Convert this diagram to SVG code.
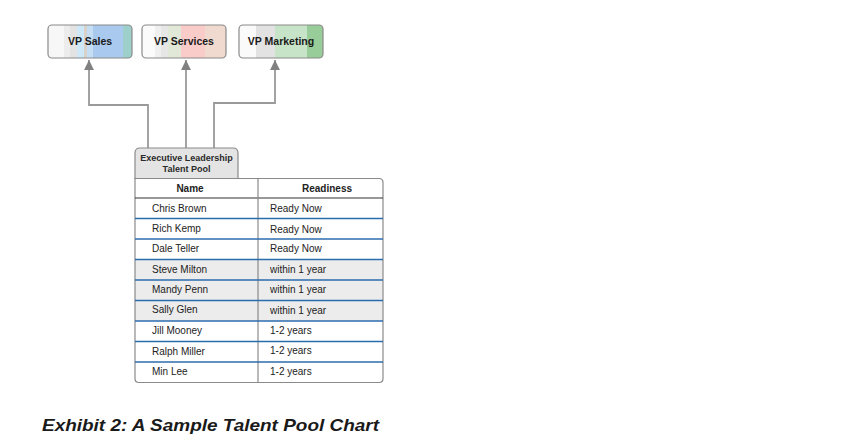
<svg xmlns="http://www.w3.org/2000/svg" width="863" height="447" viewBox="0 0 863 447">
<style>
.box{stroke:#8a8a8a;stroke-width:1.2}
.lbl{font-family:"Liberation Sans",Arial,sans-serif;font-weight:bold;font-size:10.5px;fill:#1a1a1a;text-anchor:middle}
.con{fill:none;stroke:#9a9a9a;stroke-width:1.8}
.cell{font-family:"Liberation Sans",Arial,sans-serif;font-size:10px;fill:#222}
.hdr{font-family:"Liberation Sans",Arial,sans-serif;font-size:10px;font-weight:bold;fill:#222;text-anchor:middle}
.tab{font-family:"Liberation Sans",Arial,sans-serif;font-size:9px;font-weight:bold;fill:#2a2a2a;text-anchor:middle}
.sep{stroke:#2b6cae;stroke-width:1.4}
</style>
<defs>
<linearGradient id="gS" x1="0" x2="1" y1="0" y2="0">
<stop offset="0" stop-color="#f7f7f7"/><stop offset="0.185" stop-color="#f7f7f7"/>
<stop offset="0.185" stop-color="#ececec"/><stop offset="0.26" stop-color="#ececec"/>
<stop offset="0.26" stop-color="#e3e3e3"/><stop offset="0.34" stop-color="#e3e3e3"/>
<stop offset="0.34" stop-color="#cfe8f8"/><stop offset="0.43" stop-color="#cfe8f8"/>
<stop offset="0.43" stop-color="#d9d2ca"/><stop offset="0.47" stop-color="#d9d2ca"/>
<stop offset="0.47" stop-color="#c6def4"/><stop offset="0.53" stop-color="#c6def4"/>
<stop offset="0.53" stop-color="#a9c9ee"/><stop offset="0.89" stop-color="#a9c9ee"/>
<stop offset="0.89" stop-color="#9dd0ca"/><stop offset="1" stop-color="#9dd0ca"/>
</linearGradient>
<linearGradient id="gV" x1="0" x2="1" y1="0" y2="0">
<stop offset="0" stop-color="#fbfbfb"/><stop offset="0.15" stop-color="#fbfbfb"/>
<stop offset="0.15" stop-color="#efefef"/><stop offset="0.23" stop-color="#efefef"/>
<stop offset="0.23" stop-color="#e6e6e6"/><stop offset="0.31" stop-color="#e6e6e6"/>
<stop offset="0.31" stop-color="#e2e8d8"/><stop offset="0.47" stop-color="#e2e8d8"/>
<stop offset="0.47" stop-color="#f9cbc9"/><stop offset="0.75" stop-color="#f9cbc9"/>
<stop offset="0.75" stop-color="#f0d9ce"/><stop offset="1" stop-color="#f0d9ce"/>
</linearGradient>
<linearGradient id="gM" x1="0" x2="1" y1="0" y2="0">
<stop offset="0" stop-color="#fafafa"/><stop offset="0.2" stop-color="#fafafa"/>
<stop offset="0.2" stop-color="#e2e2e2"/><stop offset="0.43" stop-color="#e2e2e2"/>
<stop offset="0.43" stop-color="#c8e4c8"/><stop offset="0.81" stop-color="#c8e4c8"/>
<stop offset="0.81" stop-color="#98cc98"/><stop offset="1" stop-color="#98cc98"/>
</linearGradient>
<marker id="arr" viewBox="0 0 10 10" refX="10" refY="5" markerWidth="5.5" markerHeight="6" orient="auto" markerUnits="strokeWidth">
<path d="M0,0 L10,5 L0,10 Z" fill="#808080"/>
</marker>
</defs>

<g id="connectors">
<path class="con" d="M148,148 V105 H89 V60" marker-end="url(#arr)"/>
<path class="con" d="M186,148 V60" marker-end="url(#arr)"/>
<path class="con" d="M214,148 V103 H275 V60" marker-end="url(#arr)"/>
</g>

<g id="vp-sales">
<rect class="box" x="48" y="25" width="84" height="33" rx="4" fill="url(#gS)"/>
<text class="lbl" x="90" y="45">VP Sales</text>
</g>
<g id="vp-services">
<rect class="box" x="142" y="25" width="84" height="33" rx="4" fill="url(#gV)"/>
<text class="lbl" x="184" y="45">VP Services</text>
</g>
<g id="vp-marketing">
<rect class="box" x="239" y="25" width="84" height="33" rx="4" fill="url(#gM)"/>
<text class="lbl" x="281" y="45">VP Marketing</text>
</g>

<g id="talent-pool">
<path d="M135,178.5 V153 Q135,148 140,148 H233 Q238,148 238,153 V178.5 Z" fill="#e4e4e4" stroke="#8a8a8a" stroke-width="1.2"/>
<text class="tab" x="186.5" y="161">Executive Leadership</text>
<text class="tab" x="186.5" y="172">Talent Pool</text>
<g id="table">
<rect x="135" y="259.5" width="248" height="61.5" fill="#ececec"/>
<path d="M135,178.5 H379 Q383,178.5 383,182.5 V378.5 Q383,382.5 379,382.5 H139 Q135,382.5 135,378.5 Z" fill="none" stroke="#8a8a8a" stroke-width="1.2"/>
<line x1="135" y1="198" x2="383" y2="198" stroke="#333" stroke-width="1.2"/>
<line x1="258" y1="178.5" x2="258" y2="382.5" stroke="#8a8a8a" stroke-width="1.2"/>
<line class="sep" x1="135" y1="218.5" x2="383" y2="218.5"/>
<line class="sep" x1="135" y1="239" x2="383" y2="239"/>
<line class="sep" x1="135" y1="259.5" x2="383" y2="259.5"/>
<line class="sep" x1="135" y1="280" x2="383" y2="280"/>
<line class="sep" x1="135" y1="300.5" x2="383" y2="300.5"/>
<line class="sep" x1="135" y1="321" x2="383" y2="321"/>
<line class="sep" x1="135" y1="341.5" x2="383" y2="341.5"/>
<line class="sep" x1="135" y1="362" x2="383" y2="362"/>
<text class="hdr" x="190" y="192">Name</text>
<text class="hdr" x="327" y="192">Readiness</text>
<text class="cell" x="152" y="212">Chris Brown</text>
<text class="cell" x="270" y="212">Ready Now</text>
<text class="cell" x="152" y="232">Rich Kemp</text>
<text class="cell" x="270" y="233">Ready Now</text>
<text class="cell" x="152" y="252">Dale Teller</text>
<text class="cell" x="270" y="252">Ready Now</text>
<text class="cell" x="152" y="273">Steve Milton</text>
<text class="cell" x="270" y="273">within 1 year</text>
<text class="cell" x="152" y="293">Mandy Penn</text>
<text class="cell" x="270" y="293">within 1 year</text>
<text class="cell" x="152" y="313">Sally Glen</text>
<text class="cell" x="270" y="314">within 1 year</text>
<text class="cell" x="152" y="334">Jill Mooney</text>
<text class="cell" x="270" y="334">1-2 years</text>
<text class="cell" x="152" y="355">Ralph Miller</text>
<text class="cell" x="270" y="354">1-2 years</text>
<text class="cell" x="152" y="375">Min Lee</text>
<text class="cell" x="270" y="375">1-2 years</text>
</g>
</g>

<text x="42" y="431" font-family="Liberation Sans,Arial,sans-serif" font-size="17" font-style="italic" font-weight="bold" fill="#1a1a1a" textLength="337" lengthAdjust="spacingAndGlyphs">Exhibit 2: A Sample Talent Pool Chart</text>
</svg>
